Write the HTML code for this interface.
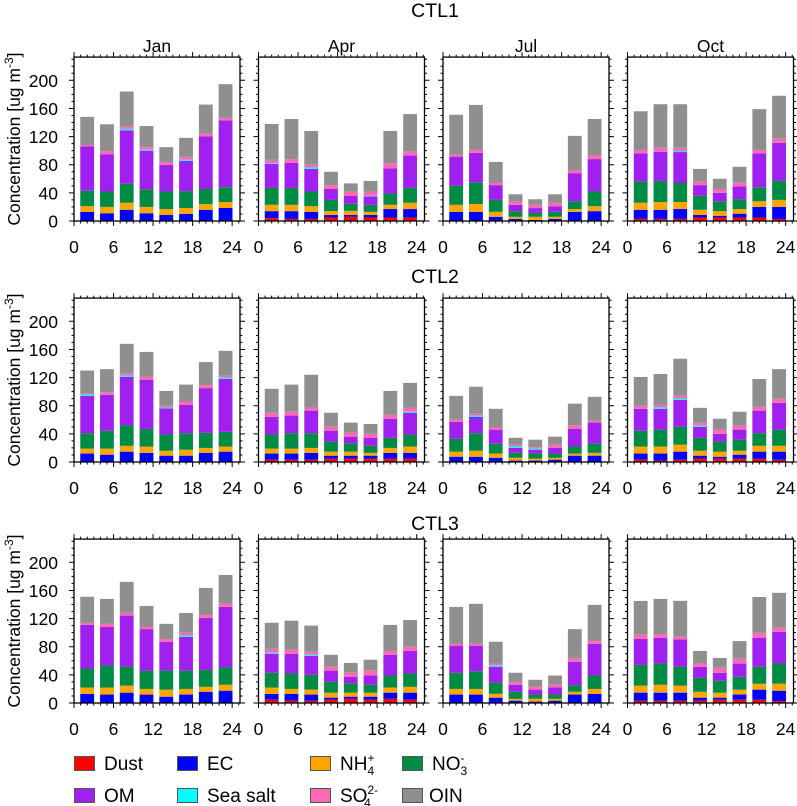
<!DOCTYPE html>
<html><head><meta charset="utf-8"><style>
html,body{margin:0;padding:0;background:#fff}
svg{display:block;font-family:"Liberation Sans",Arial,sans-serif}
</style></head><body>
<svg id="chart" width="797" height="806" viewBox="0 0 797 806" xmlns="http://www.w3.org/2000/svg">
<g id="plots"></g>
<g id="legend"></g>
</svg>
<script>
const runs = ["CTL1","CTL2","CTL3"];
const months = ["Jan","Apr","Jul","Oct"];
const hours = [2,5,8,11,14,17,20,23];
const components = ["Dust","EC","NH4","NO3","OM","Sea salt","SO4","OIN"];
const colors = ["#ff0000","#0000ff","#ffa500","#008b45","#a020f0","#00ffff","#ff69b4","#8f8f8f"];
const yTicks = [0,40,80,120,160,200];
const xTicks = [0,6,12,18,24];

// CTL1 [Jan, Apr, Jul, Oct]
const ctl1_dust = [[0,0,0,0,0,0,0,0],[4,3,3,5,6,5,5,5],[0.5,0,0,0,0,0,0,0],[3,3,3,5,5,5,5,3]];
const ctl1_ec   = [[13,11,16,11,8.5,10,16,18.5],[10,11,10,3.5,2.5,3.5,12,12],[12.5,13,6,3,1.5,3,13,14],[13,13,14,3.5,2.5,5.4,15,17]];
const ctl1_nh4  = [[8,9,10,9,8.5,8.5,8,8.5],[9,9,8,5.5,6,4.5,6,9],[10,11,7,3,4.5,3,4,7],[10,11,10,7.5,6.5,6.6,8,10]];
const ctl1_no3  = [[22,22,27,25,25,24,21.5,21],[24,24,21,16,10,10,16,21],[27,31,17,8,5.4,7,11,21],[30,30,27,20,14,14,20,27]];
const ctl1_om   = [[63,53,76,55,38,43,75,95],[34,35.5,32,15.5,11,12,36,46],[41.5,42,21,9,7,8,40,46],[40,41.5,44,15,12,18,48,54]];
const ctl1_ss   = [[0,0,2,1.4,0,1.7,0,0],[1.5,0,2,0,0,1,0,0],[0,0,0,0,0,0,0,0],[0,0,1.5,0,0,0,0,0]];
const ctl1_so4  = [[2,4,3,3.6,4,4,4,3.5],[4.5,5.5,4,5.5,6,6,7,5.5],[2.5,4,3,4.5,4.5,5,4.5,5],[5,5.5,4.5,5,5.5,5.5,5,6]];
const ctl1_oin  = [[40,38.5,50,30,21,27,41,48],[51,57,48,19,12,15,46,53.5],[57,64,30,10.5,8,12,48.5,52],[55,62,62,18,14.5,22.5,58,61]];

// CTL2
const ctl2_dust = [[0,0,0,0,0,0,0,0],[3.3,3.3,3.3,4.7,4.7,4.7,4.7,4.7],[0,0,0,0,0,0,0,0],[3.3,2,3.3,4.7,4.7,4.7,4.7,3.3]];
const ctl2_ec   = [[12,10.4,14.7,13,9,9,13,14.7],[8.7,8.7,9.7,4.3,4.3,4.3,8.3,8.3],[7.5,7.5,6,2,2,3.3,9,9],[8.7,10,11.4,4.3,2.8,5.7,10,11.4]];
const ctl2_nh4  = [[7,8.6,8.3,9,7,8.5,7,7.3],[7,7,7,5.7,5.7,4,7,9],[7.2,8.5,6,4,2.7,2.7,3,4],[10,10,10,7,7.2,5.6,8.3,8.3]];
const ctl2_no3  = [[22,25.5,29,25,23,23.5,21.5,21],[20,22,21,14.3,11.8,10,14.5,17],[18.3,25,14,7,7.3,6,10,13.5],[22.5,24,25.5,18.5,14.3,15.7,18,23]];
const ctl2_om   = [[53,51,69,70,37,40,63.5,75],[25,25,32,15.5,9.5,11.5,27,31],[24,23,20,7,5.5,8,25,29.5],[31,29.6,38,15.5,11,14.3,32,38]];
const ctl2_ss   = [[2,0,2,0,1.5,0,0,2],[0,0,0,0,0,0,0,1.5],[0,2,0,2,1.5,0,0,0],[0,2,2,2,0,0,0,0]];
const ctl2_so4  = [[1.5,3.5,3,4,2.5,5,4,2.5],[6,5.5,4.5,5.5,5.5,5.5,5.5,5.5],[3,2.5,3,2.5,2,4.5,5,2.6],[4.4,3.5,4,4,6,5.5,5.5,6]];
const ctl2_oin  = [[32.5,33,42,35.5,21,24,33,35.5],[34,38.5,46.5,20,14.5,14,34,35.5],[34,38.5,26.6,10,10.7,11.5,31,34],[41,44,52.6,21,15.5,20,39.5,42]];

// CTL3
const ctl3_dust = [[0,0,0,0,0,0,0,0],[4.7,3.3,3.3,4.7,6,4.7,6,4.7],[0,0,0,0,0,0,0,0],[3.3,3.3,3.3,3.3,4.7,4.7,4.7,2.8]];
const ctl3_ec   = [[13,12,14.7,12,9,12,16,17.5],[8.3,9.7,8.7,2.9,3,4.3,8.7,10],[12,12,7.6,3.3,2,3.3,12,13],[11.4,11.4,11.4,4.3,2.9,7.3,14.3,14.7]];
const ctl3_nh4  = [[9,10,10,8,10,8,7,8.5],[9,7,7,7.1,5.7,5.7,7.3,8.3],[8,8,5.4,2.7,4,2.7,4,7],[10,11.3,10,8.4,7.1,7,8.4,10]];
const ctl3_no3  = [[27,31.4,27,26,27,26,24,24.6],[21,22,21,15.3,13.3,11.3,17,19],[23,25,16,10,6,6,9,19],[29.4,30,27,20,17,18.4,24,28.6]];
const ctl3_om   = [[62,54.6,72.5,59,41,48,74,86],[27,28,27,16,9,13,29.6,32],[38,36,22.5,10,7,10,33.6,45],[37,36.7,38.5,15.5,11.3,18.6,41,45]];
const ctl3_ss   = [[0,0,0,0,0,2,0,0],[1.4,0,1.6,0,0,0,0,0],[0,0,2,0,0,0,0,0],[0,0,0,0,0,0,0,0]];
const ctl3_so4  = [[3,4.5,4,3,4,4,4,4.4],[5.6,5.6,4.4,5.5,6,7,5.4,6],[3,3,2.6,4,4,4,4.4,4],[6,5.3,4,4.5,7,7,7.3,6]];
const ctl3_oin  = [[37,35.5,44,30,21.5,28,38.6,41],[37,41.4,37,17,14,15.5,37,38],[52.6,57,31,13,10,13,42,51.5],[48,50,51,18,14,25,51,49.5]];

const runData = [
  [ctl1_dust,ctl1_ec,ctl1_nh4,ctl1_no3,ctl1_om,ctl1_ss,ctl1_so4,ctl1_oin],
  [ctl2_dust,ctl2_ec,ctl2_nh4,ctl2_no3,ctl2_om,ctl2_ss,ctl2_so4,ctl2_oin],
  [ctl3_dust,ctl3_ec,ctl3_nh4,ctl3_no3,ctl3_om,ctl3_ss,ctl3_so4,ctl3_oin]
];

const NS = "http://www.w3.org/2000/svg";
function mk(tag, attrs, parent){
  const e = document.createElementNS(NS, tag);
  for (const k in attrs) e.setAttribute(k, attrs[k]);
  if (parent) parent.appendChild(e);
  return e;
}
const plots = document.getElementById("plots");
const W = 166, PY = 0.7035, HX = 6.59, YMAX = 233, BW = 2.1;
const titleY = [17, 283, 530];

for (let r = 0; r < 3; r++) {
  const zeroY = 221 + r * 241;
  const topY = zeroY - YMAX * PY;
  const t = mk("text", {x: 435, y: titleY[r], "font-size": 19.5, "text-anchor": "middle"}, plots);
  
  
  t.textContent = runs[r];

  if (true) {
    const yt = mk("text", {x: 0, y: 0, "font-size": 17.5, "text-anchor": "middle", transform: "translate(20," + ((topY + zeroY) / 2) + ") rotate(-90)"}, plots);
    
    
    yt.innerHTML = 'Concentration [ug m<tspan dy="-7" font-size="12">-3</tspan><tspan dy="7">]</tspan>';
  }

  for (let c = 0; c < 4; c++) {
    const x0 = 74 + c * 184.5;
    const g = mk("g", {}, plots);
    
    
    const sx = h => x0 + h * HX;
    const sy = v => zeroY - v * PY;

    if (r === 0) {
      const mt = mk("text", {x: x0 + W / 2, y: 52, "font-size": 17.5, "text-anchor": "middle"}, g);
      
      
      mt.textContent = months[c];
    }

    // bars
    const comps = runData[r];
    for (let i = 0; i < hours.length; i++) {
      let base = 0;
      for (let k = 0; k < comps.length; k++) {
        const v = comps[k][c][i];
        if (v > 0) {
          const rect = mk("rect", {x: sx(hours[i] - BW / 2), y: sy(base + v), width: BW * HX, height: v * PY, fill: colors[k]}, g);
          
          
        }
        base += v;
      }
    }

    // frame
    const fr = mk("rect", {x: x0, y: topY, width: W, height: zeroY - topY, fill: "none", stroke: "#000", "stroke-width": 1.3}, g);
    
    

    // ticks
    let d = "";
    for (let v = 0; v <= 230; v += 10) {
      const len = (v % 40 === 0) ? 5 : 2.5;
      const y = sy(v);
      d += "M" + x0 + " " + y + "h" + (-len) + "M" + (x0 + W) + " " + y + "h" + len;
    }
    for (let h = 0; h <= 25; h += 1) {
      const len = (h % 6 === 0) ? 5 : 2.5;
      const x = sx(h);
      d += "M" + x + " " + zeroY + "v" + len + "M" + x + " " + topY + "v" + (-len);
    }
    const tk = mk("path", {d: d, stroke: "#000", "stroke-width": 1, fill: "none"}, g);
    
    

    for (const h of xTicks) {
      const xl = mk("text", {x: sx(h), y: zeroY + 32, "font-size": 17.5, "text-anchor": "middle"}, g);
      
      
      xl.textContent = h;
    }
    if (c === 0) {
      for (const v of yTicks) {
        const yl = mk("text", {x: 58, y: sy(v) + 6.5, "font-size": 17.5, "text-anchor": "end"}, g);
        
        
        yl.textContent = v;
      }
    }
  }
}

// legend
const legend = document.getElementById("legend");
const legX = [74, 177, 310, 402];
const legY = [756, 788];
const legLabels = [
  'Dust','EC','NH<tspan font-size="12" dy="-8">+</tspan><tspan font-size="12" dx="-7" dy="13">4</tspan>','NO<tspan font-size="12" dy="-8">-</tspan><tspan font-size="12" dx="-4" dy="13">3</tspan>',
  'OM','Sea salt','SO<tspan font-size="12" dy="-8">2-</tspan><tspan font-size="12" dx="-14" dy="13">4</tspan>','OIN'
];
const legOrder = [0,1,2,3,4,5,6,7];
for (let j = 0; j < 8; j++) {
  const k = legOrder[j];
  const col = j % 4, row = Math.floor(j / 4);
  const item = mk("g", {}, legend);
  
  
  mk("rect", {x: legX[col] + 0.5, y: legY[row] + 0.5, width: 20, height: 14, fill: colors[k], stroke: "#555", "stroke-width": 1}, item);
  const tx = mk("text", {x: legX[col] + (k === 7 ? 27 : 30), y: legY[row] + 14, "font-size": 19}, item);
  tx.innerHTML = legLabels[k];
}
</script>
</body></html>
